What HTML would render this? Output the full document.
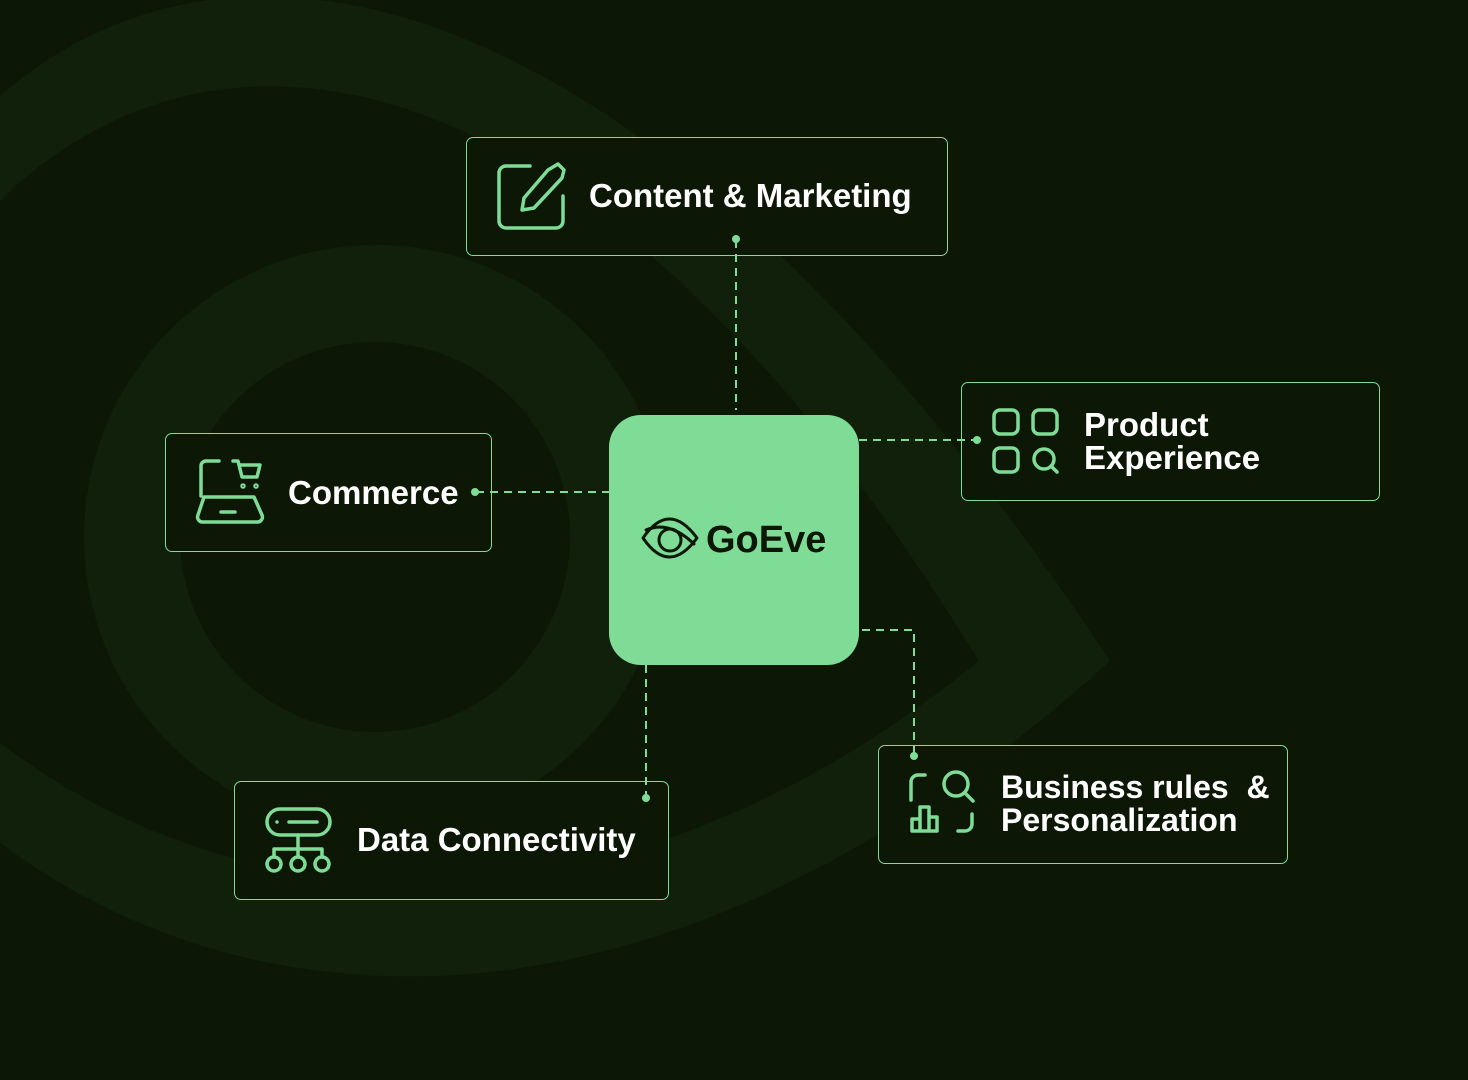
<!DOCTYPE html>
<html><head><meta charset="utf-8"><style>
html,body{margin:0;padding:0;width:1468px;height:1080px;overflow:hidden}
body{position:relative;background:#0c1805;font-family:"Liberation Sans",sans-serif}
.box{position:absolute;box-sizing:border-box;border:1.5px solid #7fdc97;border-radius:7px;background:#0c1705}
.t{position:absolute;color:#fff;font-weight:bold;font-size:33px;letter-spacing:0;line-height:33px;white-space:nowrap}
svg{position:absolute;left:0;top:0}
</style></head><body>
<svg width="1468" height="1080" viewBox="0 0 1468 1080">
<path d="M-60,160 C150,-110 600,-110 1110,661 C600,1120 150,1000 -60,790Z" fill="#10200b"/>
<path d="M-60,270 C150,-20 560,-20 979,661 C560,1000 150,900 -60,690Z" fill="#0c1805"/>
<clipPath id="c"><path d="M-60,270 C150,-20 560,-20 979,661 C560,1000 150,900 -60,690Z"/></clipPath>
<circle cx="376" cy="537" r="292" fill="#10200b" clip-path="url(#c)"/>
<circle cx="375" cy="537" r="195" fill="#0c1805"/>
</svg>
<div class="box" style="left:466px;top:137px;width:482px;height:119px"></div>
<div class="box" style="left:961px;top:382px;width:419px;height:119px"></div>
<div class="box" style="left:165px;top:433px;width:327px;height:119px"></div>
<div class="box" style="left:234px;top:781px;width:435px;height:119px"></div>
<div class="box" style="left:878px;top:745px;width:410px;height:119px"></div>
<div style="position:absolute;left:609px;top:415px;width:250px;height:250px;border-radius:32px;background:#7fdc97"></div>
<svg width="1468" height="1080" viewBox="0 0 1468 1080" fill="none" stroke="#7fdc97" stroke-width="2">
<g stroke-dasharray="8,6">
<path d="M736,240V410"/><path d="M859,440H977"/><path d="M476,492H609"/><path d="M646,665V798"/><path d="M862,630H914V756"/>
</g>
<g fill="#7fdc97" stroke="none">
<circle cx="736" cy="239" r="4"/><circle cx="977" cy="440" r="4"/><circle cx="475" cy="492" r="4"/><circle cx="646" cy="798" r="4"/><circle cx="914" cy="756" r="4"/>
</g>
<g stroke-width="3.5" stroke-linecap="round" stroke-linejoin="round">
<path d="M530,166H506a7,7 0 0 0-7,7v48a7,7 0 0 0 7,7h50a7,7 0 0 0 7-7V196"/>
<path d="M548,170l10-6l6,6l-2,8l-28,30l-12,2l2-12z"/>
<rect x="994" y="410" width="24" height="24" rx="6"/><rect x="1033" y="410" width="24" height="24" rx="6"/>
<rect x="994" y="448" width="24" height="24" rx="6"/><circle cx="1044" cy="459" r="10"/><path d="M1051,466l6,6"/>
<path d="M219,461h-13a5,5 0 0 0-5,5v30"/><path d="M204,497h50l8,18a5,5 0 0 1-5,7H203a5,5 0 0 1-5-7z"/><path d="M221,512h14"/>
<path d="M233,461h5l4,16h15l3-12h-20"/><circle cx="243" cy="486" r="1"/><circle cx="256" cy="486" r="1"/>
<rect x="267" y="809" width="63" height="26" rx="13"/><path d="M277,822h0M289,822h28"/>
<path d="M298,835v14M274,849h48M274,849v6M298,849v6M322,849v6"/>
<circle cx="274" cy="864" r="7"/><circle cx="298" cy="864" r="7"/><circle cx="322" cy="864" r="7"/>
<path d="M911,800v-18a7,7 0 0 1 7-7h7"/><circle cx="956" cy="784" r="12"/><path d="M965,793l8,8"/>
<path d="M972,814v10a7,7 0 0 1-7,7h-7"/>
<path d="M912,831v-12h8v12zM920,831v-24h9v24zM929,831v-14h8v14z"/>
<g stroke="#0c1805" stroke-width="3">
<path d="M643,538q26-38 54,0q-28,38-54,0z"/><path d="M646,530q23,-10 48,14"/><circle cx="670" cy="540" r="11"/>
</g>
</g>
</svg>
<div class="t" style="left:589px;top:179px">Content &amp; Marketing</div>
<div class="t" style="left:1084px;top:408px">Product<br>Experience</div>
<div class="t" style="left:288px;top:476px">Commerce</div>
<div class="t" style="left:357px;top:823px">Data Connectivity</div>
<div class="t" style="left:1001px;top:771px;font-size:32px">Business rules&nbsp;&nbsp;&amp;<br>Personalization</div>
<div class="t" style="left:706px;top:520px;color:#0c1805;font-size:38px;line-height:40px">GoEve</div>
</body></html>
